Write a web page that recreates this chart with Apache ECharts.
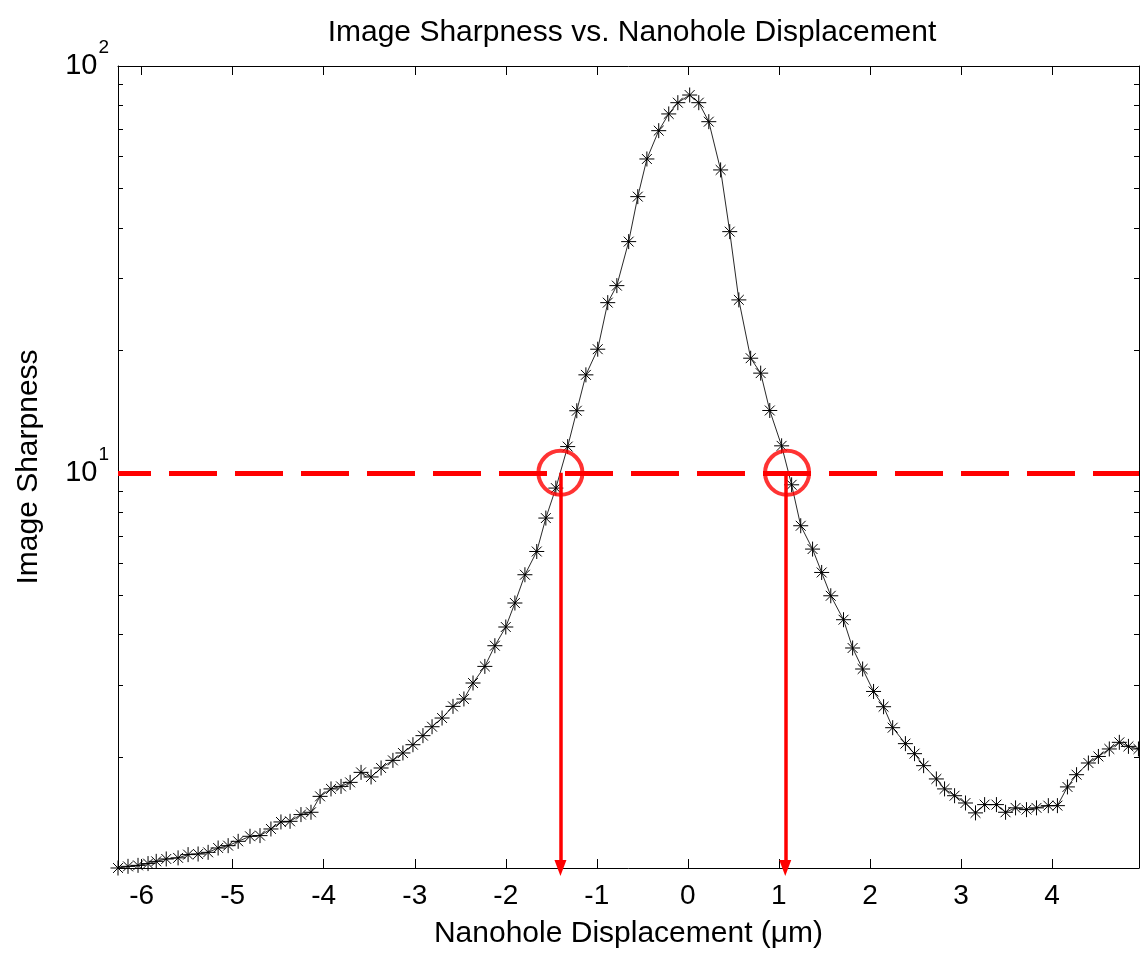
<!DOCTYPE html>
<html>
<head>
<meta charset="utf-8">
<title>Image Sharpness vs. Nanohole Displacement</title>
<script src="https://cdn.jsdelivr.net/npm/echarts@6/dist/echarts.min.js"></script>
<style>
  html, body { margin: 0; padding: 0; background: #fff; }
  #main { width: 1140px; height: 954px; }
</style>
</head>
<body>
<div id="main"></div>
<script>
// values
var displacement = [
  -6.26, -6.15, -6.04, -5.93, -5.84, -5.73, -5.60, -5.49, -5.38, -5.27,
  -5.16, -5.05, -4.94, -4.81, -4.70, -4.58, -4.47, -4.37, -4.25, -4.14,
  -4.04, -3.92, -3.81, -3.71, -3.59, -3.48, -3.37, -3.24, -3.13, -3.02,
  -2.91, -2.81, -2.70, -2.58, -2.46, -2.36, -2.23, -2.12, -2.00, -1.90,
  -1.79, -1.66, -1.56, -1.45, -1.32, -1.22, -1.12, -0.99, -0.88, -0.78,
  -0.65, -0.55, -0.45, -0.32, -0.21, -0.11, 0.02, 0.12, 0.23, 0.36,
  0.46, 0.56, 0.69, 0.80, 0.90, 1.03, 1.14, 1.24, 1.37, 1.47,
  1.57, 1.71, 1.81, 1.92, 2.04, 2.15, 2.25, 2.39, 2.49, 2.59,
  2.73, 2.82, 2.93, 3.05, 3.16, 3.26, 3.39, 3.49, 3.60, 3.72,
  3.83, 3.96, 4.06, 4.17, 4.27, 4.40, 4.51, 4.63, 4.74, 4.84,
  4.95
];
var sharpness = [
  1.068, 1.078, 1.084, 1.095, 1.109, 1.124, 1.131, 1.152, 1.156, 1.167,
  1.196, 1.212, 1.242, 1.278, 1.283, 1.332, 1.386, 1.391, 1.445, 1.464,
  1.602, 1.671, 1.695, 1.734, 1.835, 1.788, 1.881, 1.964, 2.048, 2.146,
  2.259, 2.376, 2.496, 2.666, 2.780, 3.043, 3.343, 3.758, 4.178, 4.786,
  5.616, 6.406, 7.740, 9.172, 11.60, 14.21, 17.41, 20.13, 26.20, 28.85,
  37.01, 47.74, 59.08, 69.35, 76.24, 81.25, 84.85, 81.25, 72.97, 55.53,
  39.16, 26.61, 19.13, 17.58, 14.23, 11.65, 9.344, 7.411, 6.494, 5.689,
  4.986, 4.354, 3.710, 3.294, 2.901, 2.661, 2.363, 2.159, 2.040, 1.906,
  1.768, 1.671, 1.608, 1.543, 1.459, 1.529, 1.529, 1.464, 1.501, 1.486,
  1.501, 1.520, 1.520, 1.690, 1.811, 1.935, 2.008, 2.095, 2.175, 2.126,
  2.095
];
var xTicks = [-6, -5, -4, -3, -2, -1, 0, 1, 2, 3, 4];
var yMajorTicks = [10, 100];
var yMinorTicks = [2, 3, 4, 5, 6, 7, 8, 9, 20, 30, 40, 50, 60, 70, 80, 90];
var threshold = 10;
var circleX = [-1.40, 1.09];
var arrowX = [-1.40, 1.07];

var xMin = -6.26, xMax = 4.956;
var yMin = 1.068, yMax = 100;

var font = 'Liberation Sans, Arial, sans-serif';
var red = '#ff0000';
// MATLAB style '*' marker
var asterisk = 'path://M0,-7L0,7M-7,0L7,0M-4.6,-4.6L4.6,4.6M-4.6,4.6L4.6,-4.6';

var chart = echarts.init(document.getElementById('main'), null, { renderer: 'canvas' });

function xAxisDef(pos, labels) {
  return {
    type: 'value',
    position: pos,
    min: xMin,
    max: xMax,
    axisLine: { show: true, onZero: false, lineStyle: { color: '#000', width: 1 } },
    axisTick: { show: true, inside: true, length: 9, customValues: xTicks, lineStyle: { color: '#000' } },
    axisLabel: {
      show: labels,
      customValues: xTicks,
      margin: 14,
      color: '#000',
      fontSize: 28,
      fontFamily: font
    },
    splitLine: { show: false }
  };
}

function yAxisDef(pos, ticks, len, labels, line) {
  return {
    type: 'log',
    logBase: 10,
    position: pos,
    min: yMin,
    max: yMax,
    axisLine: { show: line, onZero: false, lineStyle: { color: '#000', width: 1 } },
    axisTick: { show: true, inside: true, length: len, customValues: ticks, lineStyle: { color: '#000' } },
    axisLabel: {
      show: labels,
      customValues: yMajorTicks,
      margin: 9,
      formatter: function (v) {
        return '{b|10}{s|' + Math.round(Math.log10(v)) + '}';
      },
      rich: {
        b: { fontSize: 29, fontFamily: font, color: '#000' },
        s: { fontSize: 19, fontFamily: font, color: '#000', padding: [0, 0, 36, 1] }
      }
    },
    splitLine: { show: false },
    minorTick: { show: false }
  };
}

var left = yAxisDef('left', yMajorTicks, 9, true, true);
left.name = 'Image Sharpness';
left.nameLocation = 'middle';
left.nameGap = 74;
left.nameTextStyle = { color: '#000', fontSize: 30, fontFamily: font };

var bottom = xAxisDef('bottom', true);
bottom.name = 'Nanohole Displacement (\u03bcm)';
bottom.nameLocation = 'middle';
bottom.nameGap = 51;
bottom.nameTextStyle = { color: '#000', fontSize: 30, fontFamily: font };

var points = displacement.map(function (x, i) {
  return [x, sharpness[i]];
});

var option = {
  animation: false,
  backgroundColor: '#fff',
  title: {
    text: 'Image Sharpness vs. Nanohole Displacement',
    left: 627,
    textAlign: 'center',
    top: 13,
    textStyle: { color: '#000', fontSize: 30, fontWeight: 'normal', fontFamily: font }
  },
  grid: { left: 118, right: 1, top: 66, bottom: 86 },
  xAxis: [bottom, xAxisDef('top', false)],
  yAxis: [
    left,
    yAxisDef('left', yMinorTicks, 5, false, false),
    yAxisDef('right', yMajorTicks, 9, false, true),
    yAxisDef('right', yMinorTicks, 5, false, false)
  ],
  series: [
    {
      name: 'sharpness',
      type: 'line',
      data: points,
      symbol: asterisk,
      symbolSize: 15,
      showAllSymbol: true,
      lineStyle: { color: '#111', width: 0.9 },
      itemStyle: { color: 'rgba(0,0,0,0)', borderColor: '#000', borderWidth: 1 }
    },
    {
      // red circles where the curve crosses the threshold
      name: 'crossings',
      type: 'scatter',
      data: circleX.map(function (x) { return [x, threshold]; }),
      symbol: 'circle',
      symbolSize: 44,
      itemStyle: { color: 'rgba(0,0,0,0)', borderColor: red, borderWidth: 4 },
      z: 5,
      markLine: {
        silent: true,
        symbol: ['none', 'none'],
        label: { show: false },
        data: [
          {
            yAxis: threshold,
            lineStyle: { color: red, width: 5, type: [48, 18], dashOffset: 15 }
          },
          [
            { coord: [arrowX[0], threshold] },
            { coord: [arrowX[0], yMin], symbol: 'triangle', symbolSize: [12, 16] }
          ],
          [
            { coord: [arrowX[1], threshold] },
            { coord: [arrowX[1], yMin], symbol: 'triangle', symbolSize: [12, 16] }
          ]
        ],
        lineStyle: { color: red, width: 3.5, type: 'solid' }
      }
    }
  ]
};

chart.setOption(option);
</script>
</body>
</html>
